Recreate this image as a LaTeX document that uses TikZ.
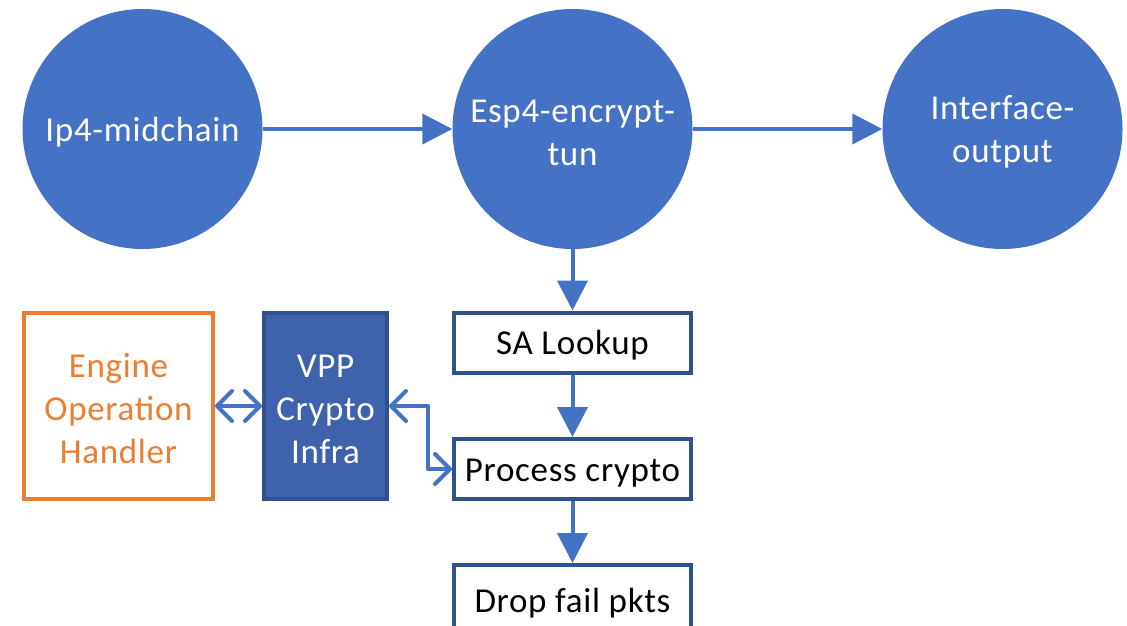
\documentclass[tikz,border=0pt]{standalone}
\usepackage{fontspec}
\setmainfont[LetterSpace=2]{Carlito}
\usetikzlibrary{arrows.meta}
\definecolor{nodeblue}{HTML}{4472C4}
\definecolor{edgeblue}{HTML}{2F528F}
\definecolor{infrablue}{HTML}{3E63AC}
\definecolor{engorange}{HTML}{ED7D31}
% tall first-line strut so labels sit a little lower in their shapes
\newcommand{\lowstrut}{\rule{0pt}{30pt}}
\tikzset{
  x=1pt, y=-1pt,
  every node/.style={font=\fontsize{35}{43}\selectfont, align=center, inner sep=0pt},
  stage/.style={circle, fill=nodeblue, text=white, minimum size=240pt},
  stepbox/.style={draw=edgeblue, line width=4pt, fill=white, minimum width=237pt, minimum height=60pt},
  flow/.style={draw=nodeblue, line width=4pt, -{Triangle[length=30pt,width=30pt]}},
  link/.style={draw=nodeblue, line width=4pt, line cap=round, line join=round,
    {Straight Barb[length=15pt,width=30pt,round]}-{Straight Barb[length=15pt,width=30pt,round]}}
}
\begin{document}
\begin{tikzpicture}
\clip (0,0) rectangle (1127,626);
\fill[white] (0,0) rectangle (1127,626);

% graph nodes along the output path
\node[stage] (mid) at (142.5,129) {\lowstrut Ip4-midchain};
\node[stage] (esp) at (572.5,129) {\lowstrut Esp4-encrypt-\\tun};
\node[stage] (out) at (1002.5,129) {\lowstrut Interface-\\output};

% processing steps inside esp4-encrypt-tun
\node[stepbox] (sa) at (572.5,342.5) {\lowstrut SA Lookup};
\node[stepbox] (proc) at (572.5,469) {\lowstrut Process crypto};
\node[stepbox, minimum height=70pt] (drop) at (572.5,600) {\lowstrut Drop fail pkts};

% crypto infrastructure
\node[draw=engorange, line width=4pt, text=engorange, minimum width=189pt, minimum height=186pt]
  (eng) at (118.5,406) {\lowstrut Engine\\Operation\\Handler};
\node[draw=edgeblue, fill=infrablue, line width=4pt, text=white, minimum width=123pt, minimum height=186pt]
  (vpp) at (325.5,406) {\lowstrut VPP\\Crypto\\Infra};

% connectors
\draw[flow] (mid) -- (esp);
\draw[flow] (esp) -- (out);
\draw[flow] (esp) -- (sa);
\draw[flow] (sa) -- (proc);
\draw[flow] (proc) -- (drop);
\draw[link] (eng) -- (vpp);
\coordinate (bend) at (428,406);
\draw[link] (vpp.east) -- (bend) |- (proc.west);
\end{tikzpicture}
\end{document}
